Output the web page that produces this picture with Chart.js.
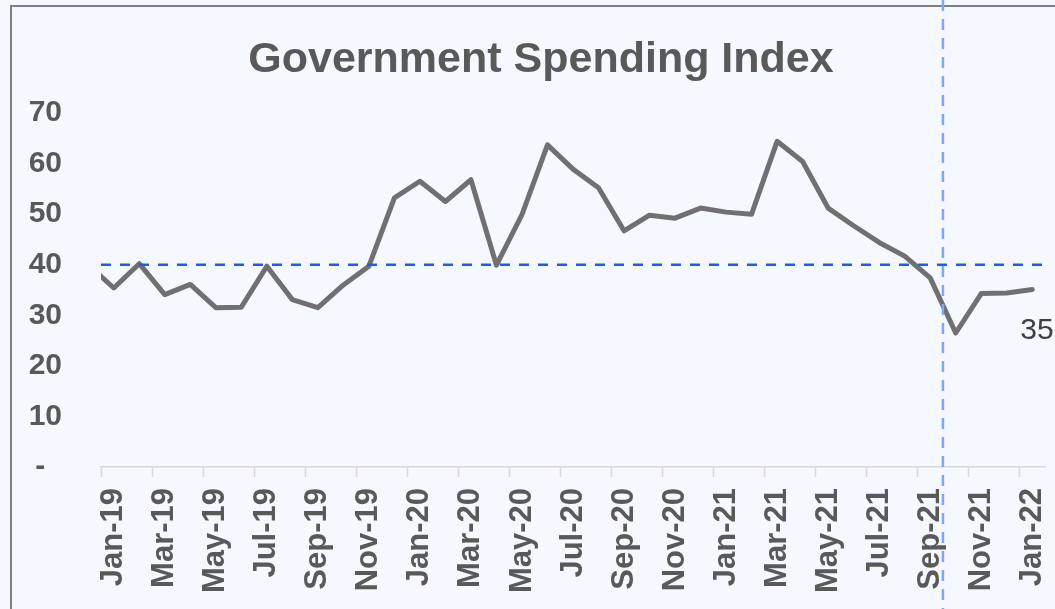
<!DOCTYPE html>
<html>
<head>
<meta charset="utf-8">
<title>Government Spending Index</title>
<script src="https://cdn.jsdelivr.net/npm/chart.js@4.4.1/dist/chart.umd.min.js"></script>
<style>
    body { margin: 0; background: #f5f8fe; }
    canvas { display: block; }
</style>
</head>
<body>
<canvas id="gsi-chart" width="1055" height="609"></canvas>
<script>
// Monthly labels (Dec-18 sits just left of the visible range, line runs in from the edge)
const months = [
    'Dec-18',
    'Jan-19', 'Feb-19', 'Mar-19', 'Apr-19', 'May-19', 'Jun-19',
    'Jul-19', 'Aug-19', 'Sep-19', 'Oct-19', 'Nov-19', 'Dec-19',
    'Jan-20', 'Feb-20', 'Mar-20', 'Apr-20', 'May-20', 'Jun-20',
    'Jul-20', 'Aug-20', 'Sep-20', 'Oct-20', 'Nov-20', 'Dec-20',
    'Jan-21', 'Feb-21', 'Mar-21', 'Apr-21', 'May-21', 'Jun-21',
    'Jul-21', 'Aug-21', 'Sep-21', 'Oct-21', 'Nov-21', 'Dec-21',
    'Jan-22'
];

const spendingIndex = [
    40.0,
    35.4, 40.2, 34.1, 36.1, 31.5, 31.6,
    39.7, 33.1, 31.5, 36.0, 39.7, 53.2,
    56.5, 52.5, 56.8, 39.9, 49.9, 63.7,
    58.9, 55.2, 46.7, 49.8, 49.2, 51.2,
    50.4, 50.0, 64.4, 60.4, 51.2, 47.7,
    44.4, 41.7, 37.4, 26.5, 34.3, 34.4,
    35.1
];

const yTicks = [0, 10, 20, 30, 40, 50, 60, 70];

const firstShownMonth = 'Jan-19';
const thresholdLevel = 40;
const markerAfterMonth = 'Sep-21';   // vertical marker between Sep-21 and Oct-21
const chartTitle = 'Government Spending Index';

const FONT = '"Liberation Sans", Arial, sans-serif';
const TEXT_GRAY = '#595959';

// Background, frame, title
const framePlugin = {
    id: 'frame',
    beforeDraw(chart) {
        const ctx = chart.ctx;
        ctx.save();
        ctx.fillStyle = '#f5f8fe';
        ctx.fillRect(0, 0, chart.width, chart.height);
        ctx.strokeStyle = '#7f7f7f';
        ctx.lineWidth = 2;
        ctx.strokeRect(11, 6, chart.width + 20, chart.height + 20);

        ctx.fillStyle = TEXT_GRAY;
        ctx.font = 'bold 43px ' + FONT;
        ctx.textAlign = 'center';
        ctx.textBaseline = 'alphabetic';
        ctx.fillText(chartTitle, 541, 72);
        ctx.restore();
    }
};

// Threshold line, vertical marker, last value label
const overlayPlugin = {
    id: 'overlay',
    afterDatasetsDraw(chart) {
        const ctx = chart.ctx;
        const area = chart.chartArea;
        const x = chart.scales.x;
        const y = chart.scales.y;

        ctx.save();
        // horizontal dashed line at threshold
        const yLevel = y.getPixelForValue(thresholdLevel);
        ctx.strokeStyle = '#1e5bf5';
        ctx.lineWidth = 2.5;
        ctx.setLineDash([10, 9]);
        ctx.beginPath();
        ctx.moveTo(area.left, yLevel);
        ctx.lineTo(area.right, yLevel);
        ctx.stroke();

        // vertical dashed marker
        const idx = months.indexOf(markerAfterMonth);
        const xMark = (x.getPixelForValue(idx) + x.getPixelForValue(idx + 1)) / 2;
        ctx.strokeStyle = '#7ba7ff';
        ctx.lineWidth = 2.5;
        ctx.setLineDash([11, 8]);
        ctx.beginPath();
        ctx.moveTo(xMark, 0);
        ctx.lineTo(xMark, chart.height);
        ctx.stroke();

        // label for the latest value
        const meta = chart.getDatasetMeta(0);
        const last = meta.data[meta.data.length - 1];
        const lastVal = spendingIndex[spendingIndex.length - 1];
        ctx.setLineDash([]);
        ctx.fillStyle = '#404040';
        ctx.font = '30px ' + FONT;
        ctx.textAlign = 'left';
        ctx.textBaseline = 'middle';
        ctx.fillText(String(Math.round(lastVal)), last.x - 12, last.y + 41);
        ctx.restore();
    }
};

const chart = new Chart(document.getElementById('gsi-chart'), {
    type: 'line',
    data: {
        labels: months,
        datasets: [{
            label: chartTitle,
            data: spendingIndex,
            borderColor: '#707073',
            borderWidth: 5,
            borderCapStyle: 'round',
            borderJoinStyle: 'round',
            pointRadius: 0,
            tension: 0,
            fill: false,
            clip: 0
        }]
    },
    options: {
        responsive: false,
        animation: false,
        layout: {
            padding: { left: 11, right: 10, top: 113, bottom: 0 }
        },
        plugins: {
            legend: { display: false },
            title: { display: false },
            tooltip: { enabled: false }
        },
        scales: {
            x: {
                type: 'category',
                min: firstShownMonth,
                offset: true,
                border: { display: true, color: '#d9d9d9', width: 1.5 },
                grid: {
                    offset: true,
                    drawOnChartArea: false,
                    tickLength: 10,
                    tickWidth: 1.5,
                    tickColor: ctx => (ctx.index % 2 === 0 ? '#d9d9d9' : 'rgba(0,0,0,0)')
                },
                ticks: {
                    autoSkip: false,
                    minRotation: 90,
                    maxRotation: 90,
                    padding: 11,
                    color: TEXT_GRAY,
                    font: { family: FONT, size: 31, weight: 'bold' },
                    callback: function (value, index) {
                        return index % 2 === 0 ? this.getLabelForValue(value) : '';
                    }
                },
                afterFit: s => {
                    s.height = 142;
                    s.paddingLeft = 0;
                    s.paddingRight = 0;
                }
            },
            y: {
                min: yTicks[0],
                max: yTicks[yTicks.length - 1],
                border: { display: false },
                grid: { display: false },
                afterBuildTicks: s => { s.ticks = yTicks.map(v => ({ value: v })); },
                ticks: {
                    padding: 31,
                    color: TEXT_GRAY,
                    font: { family: FONT, size: 30, weight: 'bold' },
                    callback: v => (v === 0 ? '-  ' : v)
                },
                afterFit: s => { s.width = 90; }
            }
        }
    },
    plugins: [framePlugin, overlayPlugin]
});
</script>
</body>
</html>
